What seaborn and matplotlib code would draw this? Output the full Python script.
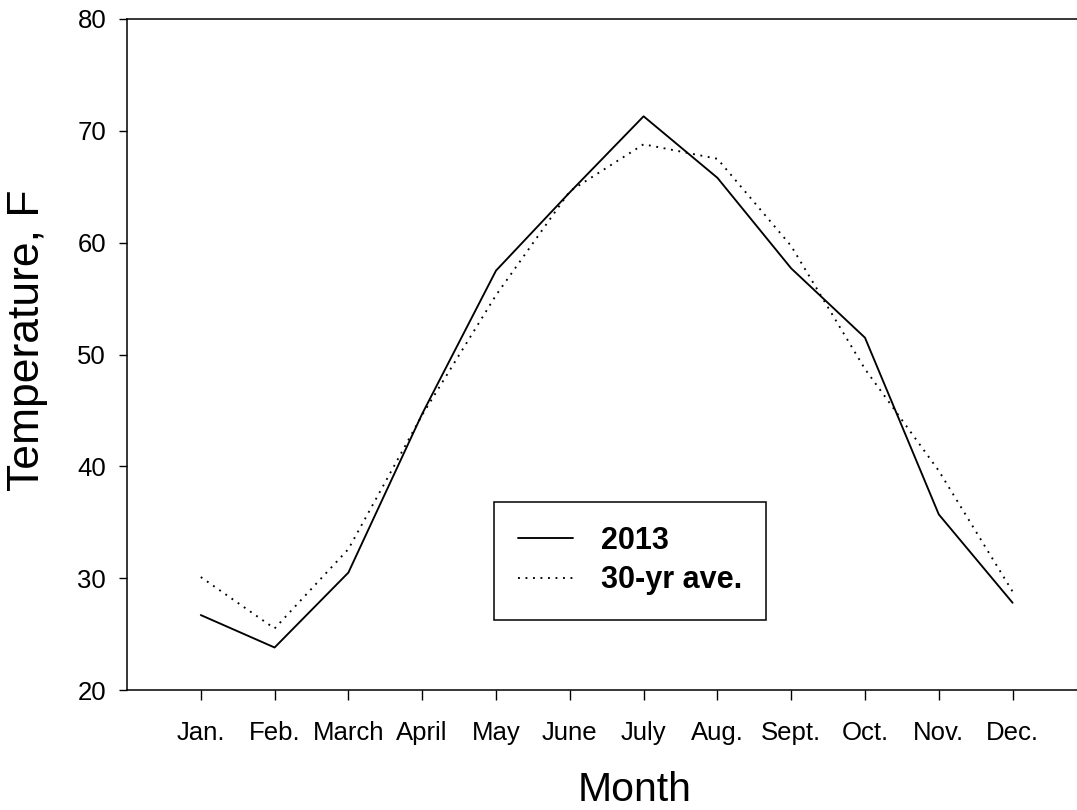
import matplotlib
matplotlib.use("Agg")
import matplotlib.pyplot as plt
import numpy as np
import pandas as pd
import seaborn as sns

# Monthly mean temperatures (°F)
months = ["Jan.", "Feb.", "March", "April", "May", "June",
          "July", "Aug.", "Sept.", "Oct.", "Nov.", "Dec."]
temp_2013 = [26.7, 23.8, 30.5, 44.7, 57.5, 64.5, 71.3, 65.8, 57.7, 51.5, 35.7, 27.8]
temp_30yr = [30.1, 25.5, 32.6, 44.6, 55.3, 64.6, 68.8, 67.5, 59.7, 48.7, 39.6, 28.8]
series_names = ["2013", "30-yr ave."]
y_ticks = [20, 30, 40, 50, 60, 70, 80]

sns.set_style("ticks")
plt.rcParams["font.family"] = ["Liberation Sans", "DejaVu Sans"]
plt.rcParams["text.color"] = "black"
plt.rcParams["axes.labelcolor"] = "black"
plt.rcParams["xtick.color"] = "black"
plt.rcParams["ytick.color"] = "black"

month_pos = np.arange(1, len(months) + 1)
df = pd.DataFrame({
    "pos": np.concatenate([month_pos, month_pos]),
    "temp": temp_2013 + temp_30yr,
    "series": [series_names[0]] * len(months) + [series_names[1]] * len(months),
})

fig = plt.figure(figsize=(10.77, 8.1), dpi=100)
ax = fig.add_axes([127 / 1077, 120 / 810, 950 / 1077, 671 / 810])

sns.lineplot(
    data=df, x="pos", y="temp", style="series",
    dashes={series_names[0]: "", series_names[1]: (1.0, 3.0)},
    color="black", linewidth=1.35, ax=ax, legend=True,
)

ax.set_xlim(0, 950 / 73.8)
ax.set_ylim(20, 80)
ax.set_xticks(month_pos)
ax.set_xticklabels(months)
ax.set_yticks(y_ticks)

for side in ("left", "bottom", "top"):
    ax.spines[side].set_visible(True)
    ax.spines[side].set_linewidth(1.1)
    ax.spines[side].set_color("black")
ax.spines["right"].set_visible(False)

ax.tick_params(axis="y", direction="out", length=6, width=1.0, pad=9,
               labelsize=18.5, colors="black")
ax.tick_params(axis="x", direction="out", length=7.5, width=1.0, pad=15,
               labelsize=18.5, colors="black")
ax.tick_params(top=False, right=False)

ax.set_xlabel("Month", fontsize=29.5)
ax.set_ylabel("Temperature, F", fontsize=32)
ax.xaxis.set_label_coords((635 - 127) / 950, (690 - 790) / 671)
ax.xaxis.label.set_va("center")
ax.yaxis.set_label_coords((28 - 127) / 950, (690 - 340) / 671)
ax.yaxis.label.set_va("center")

handles, labels = ax.get_legend_handles_labels()
leg = ax.legend(
    handles, labels, loc="upper left",
    bbox_to_anchor=((494 - 127) / 950, (690 - 501.7) / 671),
    bbox_transform=ax.transAxes, borderaxespad=0,
    frameon=True, fancybox=False, edgecolor="black", framealpha=1,
    prop={"size": 22, "weight": "bold"},
    handlelength=1.77, handletextpad=0.92, borderpad=0.8, labelspacing=0.3,
)
leg.get_frame().set_linewidth(1.1)

fig.savefig("out.png", dpi=100, facecolor="white")
